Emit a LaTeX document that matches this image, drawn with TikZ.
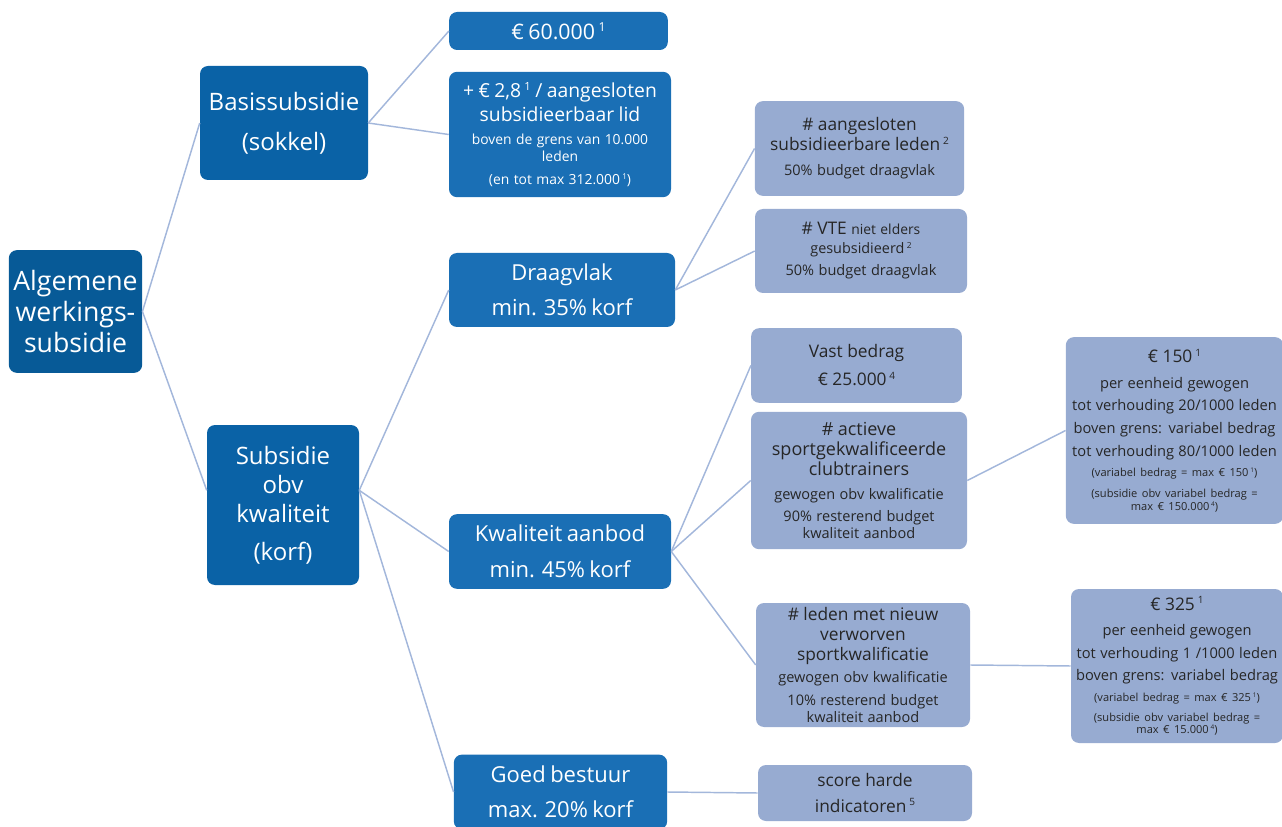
\documentclass[tikz,border=0pt]{standalone}
\usepackage{fontspec}
\setmainfont{Open Sans}
\usetikzlibrary{positioning}

\definecolor{rootblue}{HTML}{075A97}
\definecolor{mainblue}{HTML}{0A62A6}
\definecolor{subblue}{HTML}{1A6FB5}
\definecolor{paleblue}{HTML}{97ABD1}
\definecolor{linkblue}{HTML}{A3B7DB}
\definecolor{darktext}{HTML}{262626}

% font sizes
\newcommand{\fA}{\fontsize{20}{23}\selectfont}
\newcommand{\fB}{\fontsize{18}{22}\selectfont}
\newcommand{\fL}{\fontsize{16.5}{20}\selectfont}
\newcommand{\fC}{\fontsize{14.5}{18}\selectfont}
\newcommand{\fM}{\fontsize{13}{15}\selectfont}
\newcommand{\fP}{\fontsize{10.4}{12.5}\selectfont}
\newcommand{\fS}{\fontsize{10.9}{12.8}\selectfont}
\newcommand{\fT}{\fontsize{11}{17}\selectfont}
\newcommand{\fX}{\fontsize{8.3}{9.2}\selectfont}
\newcommand{\voet}[1]{\,\raisebox{0.7ex}{\fontsize{0.58em}{0.58em}\selectfont #1}}

\tikzset{
	box/.style={rounded corners=6pt, align=center, inner sep=2pt},
	rootbox/.style={box, fill=rootblue, text=white},
	mainbox/.style={box, fill=mainblue, text=white},
	subbox/.style={box, fill=subblue, text=white},
	palebox/.style={box, fill=paleblue, text=darktext},
	link/.style={draw=linkblue, line width=1.1pt},
}

\begin{document}
\begin{tikzpicture}[x=0.75pt,y=-0.75pt]
	\useasboundingbox (0,0) rectangle (1282,827);

	% level 0 and 1
	\node[rootbox, minimum width=99.75pt, minimum height=92pt, text width=96pt] (algemeen) at (75.5,311.5) {\fA Algemene\\werkings-\\subsidie\par};
	\node[mainbox, minimum width=126pt, minimum height=85.5pt, text width=122pt] (basis) at (284,123) {{\fB Basissubsidie\par}\vspace{8pt}{\fB (sokkel)\par}};
	\node[mainbox, minimum width=114pt, minimum height=120pt, text width=110pt] (korf) at (283,505) {{\fB Subsidie\\obv\\kwaliteit\par}\vspace{6pt}{\fB (korf)\par}};

	% level 2
	\node[subbox, minimum width=164pt, minimum height=28.5pt, text width=160pt] (vastsokkel) at (558.5,31) {\fontsize{16}{19}\selectfont € 60.000\voet{1}\par};
	\node[subbox, minimum width=166.5pt, minimum height=94pt, text width=162.5pt] (perlid) at (560,134.5) {{\fC + € 2,8\voet{1} / aangesloten\\subsidieerbaar lid\par}\vspace{5pt}{\fP boven de grens van 10.000\\leden\par}\vspace{5pt}{\fP (en tot max 312.000\voet{1})\par}};
	\node[subbox, minimum width=169.5pt, minimum height=55.5pt, text width=165pt] (draagvlak) at (562,290) {{\fL Draagvlak\par}\vspace{6pt}{\fL min. 35\% korf\par}};
	\node[subbox, minimum width=166.5pt, minimum height=56pt, text width=162pt] (aanbod) at (560,551.5) {{\fL Kwaliteit aanbod\par}\vspace{7pt}{\fL min. 45\% korf\par}};
	\node[subbox, minimum width=160pt, minimum height=56pt, text width=156pt] (bestuur) at (560.5,792) {{\fL Goed bestuur\par}\vspace{6pt}{\fL max. 20\% korf\par}};

	% level 3
	\node[palebox, minimum width=157pt, minimum height=71pt, text width=153pt] (leden) at (859.5,148.5) {{\fM \# aangesloten\\subsidieerbare leden\voet{2}\par}\vspace{6pt}{\fS 50\% budget draagvlak\par}};
	\node[palebox, minimum width=159pt, minimum height=63pt, text width=155pt] (vte) at (861,251) {{\fM \# VTE {\fP niet elders}\par}{\fontsize{10.8}{14}\selectfont gesubsidieerd\voet{2}\par}\vspace{4pt}{\fS 50\% budget draagvlak\par}};
	\node[palebox, minimum width=158pt, minimum height=56pt, text width=154pt] (vastbedrag) at (856.5,365.5) {{\fM Vast bedrag\par}\vspace{6pt}{\fM € 25.000\voet{4}\par}};
	\node[palebox, minimum width=162pt, minimum height=103pt, text width=158pt] (trainers) at (859,480.5) {{\fontsize{13.5}{15}\selectfont \# actieve\\sportgekwalificeerde\\clubtrainers\par}\vspace{5pt}{\fS gewogen obv kwalificatie\par}\vspace{4pt}{\fS 90\% resterend budget\\kwaliteit aanbod\par}};
	\node[palebox, minimum width=160.5pt, minimum height=93pt, text width=156pt] (nieuw) at (863,665) {{\fM \# leden met nieuw\\verworven\\sportkwalificatie\par}\vspace{4pt}{\fS gewogen obv kwalificatie\par}\vspace{4pt}{\fS 10\% resterend budget\\kwaliteit aanbod\par}};
	\node[palebox, minimum width=160.5pt, minimum height=42pt, text width=156pt] (score) at (865,793) {\fontsize{13}{19}\selectfont score harde\\indicatoren\voet{5}\par};

	% level 4
	\node[palebox, minimum width=161pt, minimum height=140pt, text width=159pt] (tarief150) at (1174.5,430.5) {{\fM € 150\voet{1}\par}\vspace{2pt}{\fT per eenheid gewogen\\tot verhouding 20/1000 leden\\boven grens: variabel bedrag\\tot verhouding 80/1000 leden\par}\vspace{6pt}{\fX (variabel bedrag = max € 150\voet{1})\par}\vspace{7pt}{\fX (subsidie obv variabel bedrag =\\max € 150.000\voet{4})\par}};
	\node[palebox, minimum width=157.5pt, minimum height=115.5pt, text width=155pt] (tarief325) at (1177,666) {{\fM € 325\voet{1}\par}\vspace{2pt}{\fT per eenheid gewogen\\tot verhouding 1 /1000 leden\\boven grens: variabel bedrag\par}\vspace{6pt}{\fX (variabel bedrag = max € 325\voet{1})\par}\vspace{6pt}{\fX (subsidie obv variabel bedrag =\\max € 15.000\voet{4})\par}};

	% connectors
	\coordinate (korfuit) at ([yshift=11pt]korf.east);
	\coordinate (korfin) at ([yshift=11pt]korf.west);
	\draw[link] (algemeen.east) -- (basis.west);
	\draw[link] (algemeen.east) -- (korfin);
	\draw[link] (basis.east) -- (vastsokkel.west);
	\draw[link] (basis.east) -- (perlid.west);
	\draw[link] (korfuit) -- (draagvlak.west);
	\draw[link] (korfuit) -- (aanbod.west);
	\draw[link] (korfuit) -- (bestuur.west);
	\draw[link] (draagvlak.east) -- (leden.west);
	\draw[link] (draagvlak.east) -- (vte.west);
	\draw[link] (aanbod.east) -- (vastbedrag.west);
	\draw[link] (aanbod.east) -- (trainers.west);
	\draw[link] (aanbod.east) -- (nieuw.west);
	\draw[link] (bestuur.east) -- (score.west);
	\draw[link] (trainers.east) -- (tarief150.west);
	\draw[link] (nieuw.east) -- (tarief325.west);
\end{tikzpicture}
\end{document}
